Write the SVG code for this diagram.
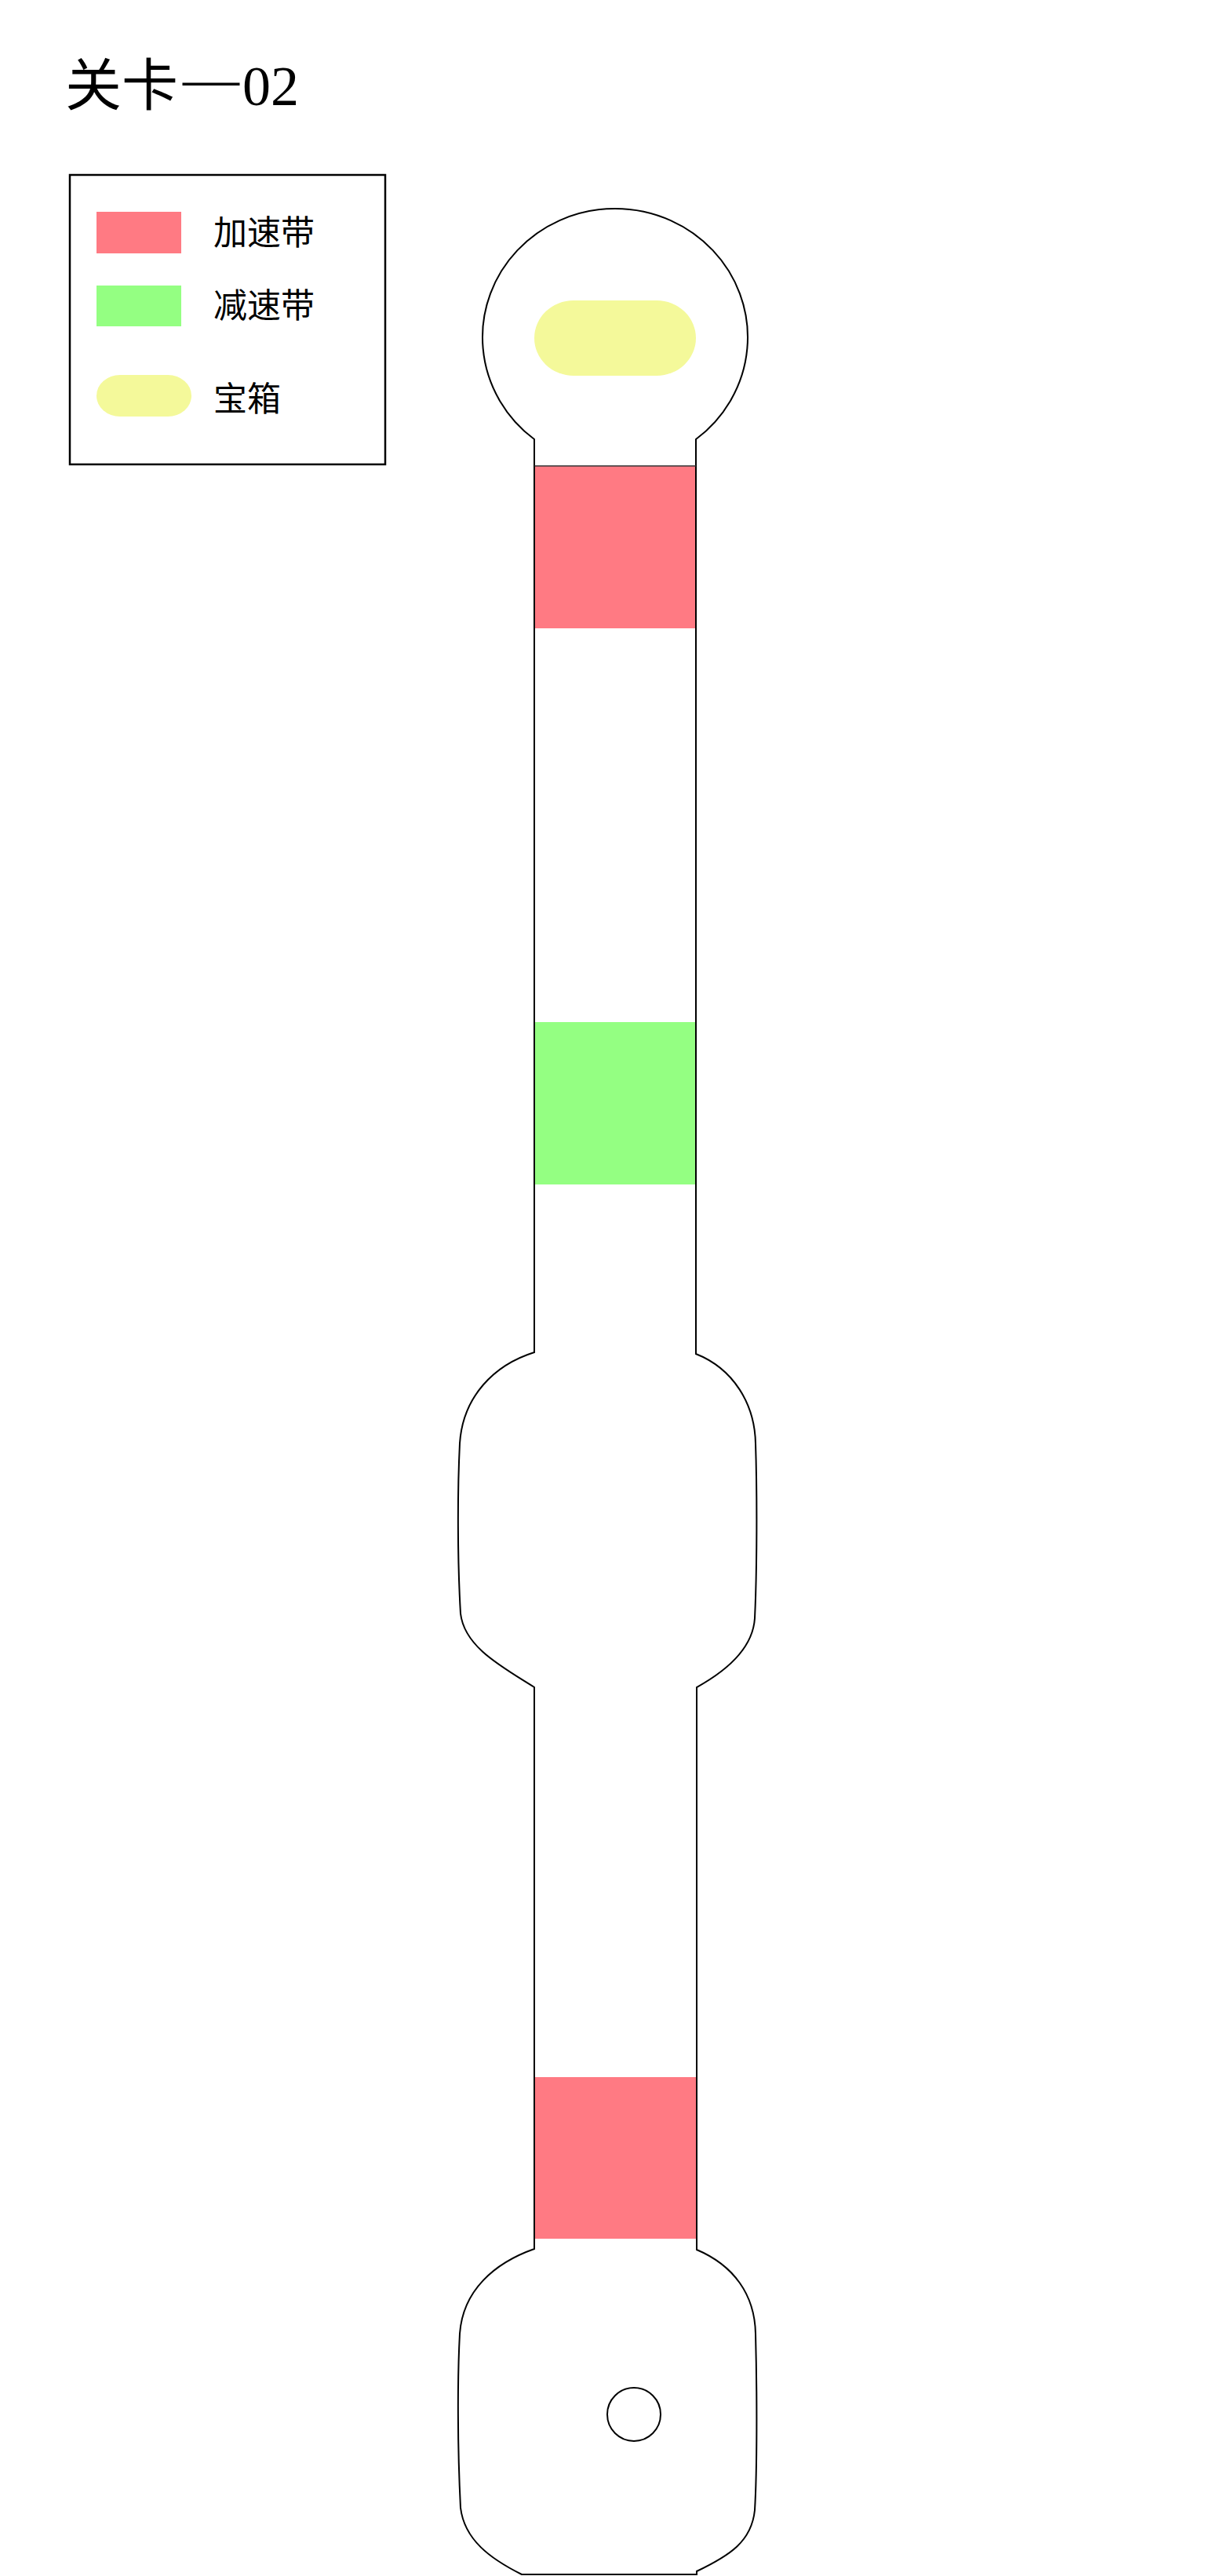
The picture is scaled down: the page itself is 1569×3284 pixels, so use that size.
<svg xmlns="http://www.w3.org/2000/svg" width="1569" height="3284" viewBox="0 0 1569 3284">
<style>
.txt{font-family:"Liberation Serif","Noto Sans CJK SC",serif;fill:#000}
.line{fill:none;stroke:#000;stroke-width:2}
.acc{fill:#FF7A83}
.dec{fill:#94FF82}
.box{fill:#F4F99A}
</style>
<rect width="1569" height="3284" fill="#fff"/>
<g id="title"><text class="txt" x="83" y="134" font-size="72">关卡<tspan dx="6" dy="-10">—</tspan><tspan dx="4" dy="10">02</tspan></text></g>
<g id="legend">
<rect x="89" y="223" width="402" height="369" fill="none" stroke="#000" stroke-width="2.5"/>
<rect class="acc" x="123" y="270" width="108" height="53"/>
<text class="txt" x="272" y="312" font-size="43">加速带</text>
<rect class="dec" x="123" y="364" width="108" height="52"/>
<text class="txt" x="272" y="405" font-size="43">减速带</text>
<rect class="box" x="123" y="478" width="121" height="53" rx="30" ry="26.5"/>
<text class="txt" x="272" y="524" font-size="43">宝箱</text>
</g>
<g id="zones">
<rect class="acc" x="681" y="594" width="207" height="207"/>
<rect class="dec" x="681" y="1303" width="207" height="207"/>
<rect class="acc" x="681" y="2648" width="207" height="206"/>
</g>
<g id="chest"><rect class="box" x="681" y="383" width="206" height="96" rx="50" ry="48"/></g>
<g id="outline">
<path class="line" d="M681,560 A169,164 0 1 1 887,560 L887,1726 C935,1745 962,1790 963,1840 C965,1900 965,2000 962,2063 C960,2095 935,2125 888,2151 L888,2868 C935,2888 962,2925 963,2975 C965,3050 965,3150 962,3200 C958,3240 930,3258 888,3278 L888,3282 L665,3282 C625,3262 592,3238 587,3197 C583,3120 583,3030 586,2975 C590,2920 630,2885 681,2867 L681,2151 C640,2125 592,2100 587,2057 C583,1990 583,1900 586,1840 C590,1780 630,1740 681,1724 Z"/>
<line x1="681" y1="594" x2="887" y2="594" stroke="#333" stroke-width="1.5"/>
</g>
<g id="point"><circle cx="808" cy="3078" r="34" class="line"/></g>
</svg>
